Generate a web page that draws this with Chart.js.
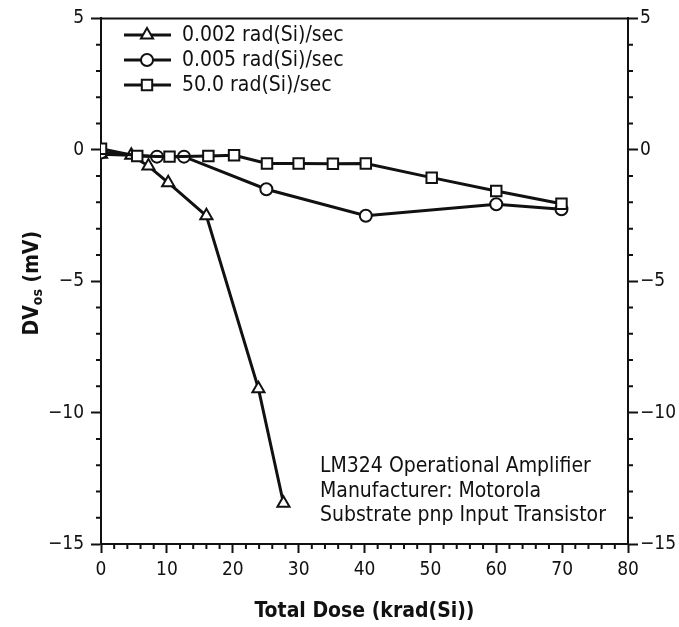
<html>
<head>
<script src="https://cdn.jsdelivr.net/npm/chart.js"></script>
<style>
  body { margin: 0; background: #fff; }
  #wrap { width: 679px; height: 627px; }
</style>
</head>
<body>
<div id="wrap"><canvas id="doseChart"></canvas></div>
<script>
// 0.002 rad(Si)/sec
const doseTri = [0, 4.6, 7.2, 10.2, 16.0, 23.9, 27.7];
const dvTri = [-0.17, -0.21, -0.62, -1.25, -2.51, -9.09, -13.45];
// 0.005 rad(Si)/sec
const doseCirc = [0, 8.5, 12.6, 25.1, 40.2, 60.0, 69.9];
const dvCirc = [-0.1, -0.26, -0.26, -1.5, -2.51, -2.07, -2.26];
// 50.0 rad(Si)/sec
const doseSq = [0, 5.5, 10.4, 16.3, 20.2, 25.2, 30.0, 35.2, 40.2, 50.2, 60.0, 69.9];
const dvSq = [0.04, -0.24, -0.26, -0.24, -0.21, -0.52, -0.52, -0.53, -0.52, -1.06, -1.57, -2.05];

const seriesNames = ['0.002 rad(Si)/sec', '0.005 rad(Si)/sec', '50.0 rad(Si)/sec'];
const seriesMarkers = ['triangle', 'circle', 'rect'];
const noteLines = ['LM324 Operational Amplifier', 'Manufacturer: Motorola', 'Substrate pnp Input Transistor'];

const FONT = '"DejaVu Sans Condensed", "DejaVu Sans", sans-serif';
const INK = '#111';

function toPoints(xs, ys) {
    return xs.map((x, i) => ({x: x, y: ys[i]}));
}

function minus(v) {
    return String(v).replace('-', '\u2212');
}

function marker(ctx, style, x, y) {
    ctx.save();
    ctx.fillStyle = '#fff';
    ctx.strokeStyle = INK;
    ctx.lineWidth = 2;
    ctx.beginPath();
    if (style === 'triangle') {
        const r = 7;
        ctx.moveTo(x, y - r);
        ctx.lineTo(x + r * 0.866, y + r / 2);
        ctx.lineTo(x - r * 0.866, y + r / 2);
        ctx.closePath();
    } else if (style === 'circle') {
        ctx.arc(x, y, 6, 0, Math.PI * 2);
    } else {
        ctx.rect(x - 5.2, y - 5.2, 10.4, 10.4);
    }
    ctx.fill();
    ctx.stroke();
    ctx.restore();
}

const extras = {
    id: 'extras',
    afterDraw(chart) {
        const ctx = chart.ctx;
        const area = chart.chartArea;
        const xs = chart.scales.x, ys = chart.scales.y;

        ctx.save();
        ctx.strokeStyle = INK;
        ctx.lineWidth = 2;
        // top frame line
        ctx.beginPath();
        ctx.moveTo(area.left, area.top);
        ctx.lineTo(area.right, area.top);
        ctx.stroke();

        // minor ticks
        ctx.beginPath();
        for (let v = 2; v < 80; v += 2) {
            if (v % 10 === 0) continue;
            const px = xs.getPixelForValue(v);
            ctx.moveTo(px, area.bottom);
            ctx.lineTo(px, area.bottom + 5);
        }
        for (let v = -14; v < 5; v++) {
            if (v % 5 === 0) continue;
            const py = ys.getPixelForValue(v);
            ctx.moveTo(area.left, py);
            ctx.lineTo(area.left - 5, py);
            ctx.moveTo(area.right, py);
            ctx.lineTo(area.right + 5, py);
        }
        ctx.stroke();

        // legend
        ctx.fillStyle = INK;
        ctx.font = '21px ' + FONT;
        ctx.textBaseline = 'middle';
        ctx.textAlign = 'left';
        seriesNames.forEach((name, i) => {
            const y = 35 + i * 25;
            ctx.lineWidth = 3;
            ctx.beginPath();
            ctx.moveTo(124, y);
            ctx.lineTo(171, y);
            ctx.stroke();
            marker(ctx, seriesMarkers[i], 147, y);
            ctx.fillText(name, 182, y + 1);
        });

        // note
        noteLines.forEach((line, i) => {
            ctx.fillText(line, 320, 467 + i * 24.5);
        });

        // x title
        ctx.font = 'bold 21px ' + FONT;
        ctx.textAlign = 'center';
        ctx.fillText('Total Dose (krad(Si))', (area.left + area.right) / 2, 612);

        // y title with subscript
        ctx.translate(33, (area.top + area.bottom) / 2 + 2);
        ctx.rotate(-Math.PI / 2);
        const big = 'bold 21px ' + FONT, small = 'bold 14px ' + FONT;
        ctx.font = big;
        const w1 = ctx.measureText('DV').width;
        const w3 = ctx.measureText(' (mV)').width;
        ctx.font = small;
        const w2 = ctx.measureText('os').width;
        let x0 = -(w1 + w2 + w3) / 2;
        ctx.textAlign = 'left';
        ctx.font = big;
        ctx.fillText('DV', x0, 0);
        ctx.font = small;
        ctx.fillText('os', x0 + w1, 5);
        ctx.font = big;
        ctx.fillText(' (mV)', x0 + w1 + w2, 0);
        ctx.restore();
    }
};

const yAxis = (side, width, pad) => ({
    type: 'linear',
    position: side,
    min: -15,
    max: 5,
    afterFit: (s) => { s.width = width; },
    border: { color: INK, width: 2 },
    grid: { drawOnChartArea: false, tickLength: 10, tickColor: INK, tickWidth: 2 },
    ticks: {
        stepSize: 5,
        padding: pad,
        color: INK,
        font: { family: FONT, size: 19 },
        callback: (v) => minus(v)
    }
});

new Chart(document.getElementById('doseChart'), {
    type: 'line',
    data: {
        datasets: [
            {
                label: seriesNames[2],
                data: toPoints(doseSq, dvSq),
                pointStyle: 'rect',
                pointRadius: 7.4,
                order: 1
            },
            {
                label: seriesNames[1],
                data: toPoints(doseCirc, dvCirc),
                pointStyle: 'circle',
                pointRadius: 6,
                order: 2
            },
            {
                label: seriesNames[0],
                data: toPoints(doseTri, dvTri),
                pointStyle: 'triangle',
                pointRadius: 7,
                order: 3
            }
        ].map(d => Object.assign(d, {
            borderColor: INK,
            borderWidth: 3,
            backgroundColor: '#fff',
            pointBackgroundColor: '#fff',
            pointBorderColor: INK,
            pointBorderWidth: 2,
            tension: 0
        }))
    },
    options: {
        responsive: true,
        maintainAspectRatio: false,
        animation: false,
        layout: { padding: { top: 17, left: 0, right: 0, bottom: 0 } },
        plugins: {
            legend: { display: false },
            tooltip: { enabled: false }
        },
        scales: {
            x: {
                type: 'linear',
                position: 'bottom',
                min: 0,
                max: 80,
                afterFit: (s) => { s.height = 83; },
                border: { color: INK, width: 2 },
                grid: { drawOnChartArea: false, tickLength: 9, tickColor: INK, tickWidth: 2 },
                ticks: {
                    stepSize: 10,
                    padding: 6,
                    color: INK,
                    font: { family: FONT, size: 19 }
                }
            },
            y: yAxis('left', 101, 7),
            y2: yAxis('right', 51, 2)
        }
    },
    plugins: [extras]
});
</script>
</body>
</html>
